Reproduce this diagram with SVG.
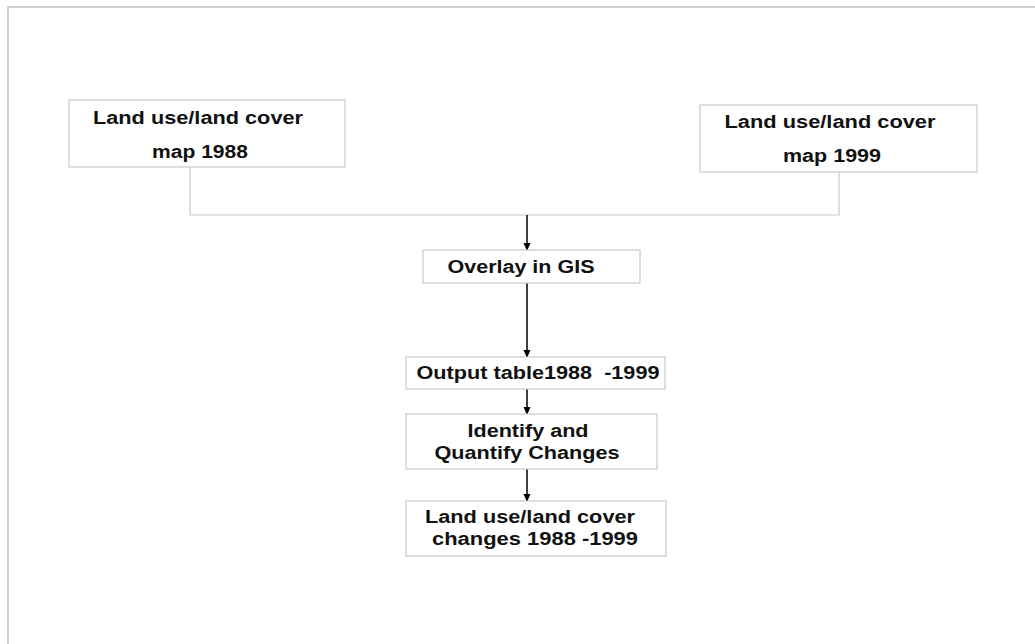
<svg xmlns="http://www.w3.org/2000/svg" width="1035" height="644" viewBox="0 0 1035 644">
<style>
.box{fill:#fff;stroke:#c8c8c8;stroke-width:1.2}
.t{font-family:"Liberation Sans",Arial,sans-serif;font-weight:bold;font-size:17.5px;fill:#111;text-anchor:middle}
.ln{fill:none;stroke:#c8c8c8;stroke-width:1.2}
.ar{fill:none;stroke:#000;stroke-width:1.5}
</style>
<defs>
<marker id="ad" markerWidth="8" markerHeight="8" refX="7" refY="4" orient="auto" markerUnits="userSpaceOnUse" viewBox="0 0 8 8">
<path d="M0,0.5 L8,4 L0,7.5 Z" fill="#000"/>
</marker>
</defs>
<rect x="8" y="7" width="1040" height="650" fill="#fff" stroke="#b4b4b4" stroke-width="1.2"/>
<g id="connectors">
<path class="ln" d="M190,167 V215 H839 V172"/>
<path class="ar" d="M527,215 V250" marker-end="url(#ad)"/>
<path class="ar" d="M527,279 V357" marker-end="url(#ad)"/>
<path class="ar" d="M527,389 V414" marker-end="url(#ad)"/>
<path class="ar" d="M527,469 V501" marker-end="url(#ad)"/>
</g>
<g id="map1988">
<rect class="box" x="69" y="100" width="276" height="67"/>
<text class="t" x="198" y="124" textLength="210" lengthAdjust="spacingAndGlyphs">Land use/land cover</text>
<text class="t" x="200" y="158" textLength="96" lengthAdjust="spacingAndGlyphs">map 1988</text>
</g>
<g id="map1999">
<rect class="box" x="700" y="105" width="277" height="67"/>
<text class="t" x="830" y="128" textLength="211" lengthAdjust="spacingAndGlyphs">Land use/land cover</text>
<text class="t" x="832" y="162" textLength="98" lengthAdjust="spacingAndGlyphs">map 1999</text>
</g>
<g id="overlay">
<rect class="box" x="423" y="250" width="217" height="33"/>
<text class="t" x="521" y="273" textLength="147" lengthAdjust="spacingAndGlyphs">Overlay in GIS</text>
</g>
<g id="output">
<rect class="box" x="406" y="357" width="259" height="32"/>
<text class="t" x="538" y="379" textLength="243" lengthAdjust="spacingAndGlyphs" xml:space="preserve">Output table1988  -1999</text>
</g>
<g id="identify">
<rect class="box" x="406" y="414" width="251" height="55"/>
<text class="t" x="528" y="437" textLength="121" lengthAdjust="spacingAndGlyphs">Identify and</text>
<text class="t" x="527" y="459" textLength="185" lengthAdjust="spacingAndGlyphs">Quantify Changes</text>
</g>
<g id="changes">
<rect class="box" x="406" y="501" width="260" height="55"/>
<text class="t" x="530" y="523" textLength="210" lengthAdjust="spacingAndGlyphs">Land use/land cover</text>
<text class="t" x="535" y="545" textLength="206" lengthAdjust="spacingAndGlyphs">changes 1988 -1999</text>
</g>
</svg>
